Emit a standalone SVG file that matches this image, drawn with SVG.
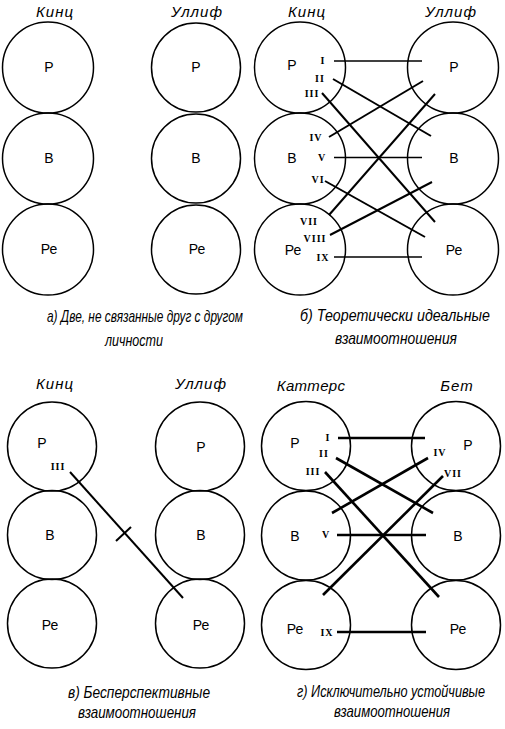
<svg xmlns="http://www.w3.org/2000/svg" width="505" height="729" viewBox="0 0 505 729">
<style>
.c{fill:none;stroke:#000;stroke-width:1.5}
.n{font-family:"Liberation Sans","Noto Sans",sans-serif;font-size:14px;text-anchor:middle;fill:#000}
.h{font-family:"Liberation Sans","Noto Sans",sans-serif;font-size:15px;font-style:italic;text-anchor:middle;fill:#000;letter-spacing:1px}
.cap{font-family:"Liberation Sans","Noto Sans",sans-serif;font-size:16px;font-style:italic;fill:#000}
.r{font-family:"Liberation Serif","DejaVu Serif",serif;font-size:10px;font-weight:bold;text-anchor:middle;fill:#000;letter-spacing:1px}
.thin{stroke:#000;stroke-width:1.3;fill:none}
.thk{stroke:#000;stroke-width:2;fill:none}
.thk2{stroke:#000;stroke-width:2.6;fill:none}
</style>
<rect width="505" height="729" fill="#fff"/>

<!-- Panel a -->
<g id="panel-a">
<text class="h" x="55" y="17">Кинц</text>
<text class="h" x="197" y="17">Уллиф</text>
<g id="a-k-r"><circle class="c" cx="48" cy="67.5" r="45.5"/><text class="n" x="49" y="72">Р</text></g>
<g id="a-k-v"><circle class="c" cx="48" cy="158.5" r="45.5"/><text class="n" x="49" y="163">В</text></g>
<g id="a-k-re"><circle class="c" cx="48" cy="249.5" r="45.5"/><text class="n" x="49" y="254">Ре</text></g>
<g id="a-u-r"><circle class="c" cx="196" cy="67.5" r="44.5"/><text class="n" x="196" y="72">Р</text></g>
<g id="a-u-v"><circle class="c" cx="196" cy="158.5" r="44.5"/><text class="n" x="196" y="163">В</text></g>
<g id="a-u-re"><circle class="c" cx="196" cy="249.5" r="44.5"/><text class="n" x="197" y="254">Ре</text></g>
<text class="cap" transform="translate(47,322) scale(0.85,1)" textLength="230.6" lengthAdjust="spacingAndGlyphs">а) Две, не связанные друг с другом</text>
<text class="cap" transform="translate(105,346) scale(0.85,1)" textLength="68.2" lengthAdjust="spacingAndGlyphs">личности</text>
</g>

<!-- Panel b -->
<g id="panel-b">
<text class="h" x="307" y="17">Кинц</text>
<text class="h" x="451" y="17">Уллиф</text>
<g id="b-k-r"><circle class="c" cx="300" cy="67.5" r="45.5"/><text class="n" x="292" y="70">Р</text>
<text class="r" x="323" y="64">I</text><text class="r" x="320" y="82">II</text><text class="r" x="312" y="97">III</text></g>
<g id="b-k-v"><circle class="c" cx="300" cy="158.5" r="45.5"/><text class="n" x="292" y="163">В</text>
<text class="r" x="316" y="141">IV</text><text class="r" x="322" y="161">V</text><text class="r" x="318" y="183">VI</text></g>
<g id="b-k-re"><circle class="c" cx="300" cy="249.5" r="45.5"/><text class="n" x="293" y="255">Ре</text>
<text class="r" x="309" y="225">VII</text><text class="r" x="315" y="242">VIII</text><text class="r" x="323" y="261">IX</text></g>
<g id="b-u-r"><circle class="c" cx="453" cy="67.5" r="45.5"/><text class="n" x="454" y="72">Р</text></g>
<g id="b-u-v"><circle class="c" cx="453" cy="158.5" r="45.5"/><text class="n" x="454" y="163">В</text></g>
<g id="b-u-re"><circle class="c" cx="453" cy="249.5" r="45.5"/><text class="n" x="454" y="255">Ре</text></g>
<text class="cap" transform="translate(300,321) scale(0.85,1)" textLength="223.5" lengthAdjust="spacingAndGlyphs">б) Теоретически идеальные</text>
<text class="cap" transform="translate(335,344) scale(0.85,1)" textLength="143.5" lengthAdjust="spacingAndGlyphs">взаимоотношения</text>
</g>

<!-- Panel c -->
<g id="panel-c">
<text class="h" x="55" y="389">Кинц</text>
<text class="h" x="201" y="389">Уллиф</text>
<g id="c-k-r"><circle class="c" cx="52" cy="446.5" r="44.5"/><text class="n" x="42" y="448">Р</text><text class="r" x="58" y="470">III</text></g>
<g id="c-k-v"><circle class="c" cx="52" cy="535" r="44.5"/><text class="n" x="50" y="540">В</text></g>
<g id="c-k-re"><circle class="c" cx="52" cy="623.5" r="44.5"/><text class="n" x="50" y="630">Ре</text></g>
<g id="c-u-r"><circle class="c" cx="200" cy="446.5" r="44.5"/><text class="n" x="201" y="452">Р</text></g>
<g id="c-u-v"><circle class="c" cx="200" cy="535" r="44.5"/><text class="n" x="201" y="540">В</text></g>
<g id="c-u-re"><circle class="c" cx="200" cy="623.5" r="44.5"/><text class="n" x="201" y="630">Ре</text></g>
<text class="cap" transform="translate(68,698) scale(0.85,1)" textLength="167.1" lengthAdjust="spacingAndGlyphs">в) Бесперспективные</text>
<text class="cap" transform="translate(78,718) scale(0.85,1)" textLength="138.8" lengthAdjust="spacingAndGlyphs">взаимоотношения</text>
</g>

<!-- Panel d -->
<g id="panel-d">
<text class="h" x="311" y="391" style="letter-spacing:0.3px">Каттерс</text>
<text class="h" x="457" y="391">Бет</text>
<g id="d-k-r"><circle class="c" cx="306" cy="446" r="44.5"/><text class="n" x="295" y="448">Р</text>
<text class="r" x="328" y="441">I</text><text class="r" x="324" y="457">II</text><text class="r" x="313" y="475">III</text></g>
<g id="d-k-v"><circle class="c" cx="306" cy="535.5" r="44.5"/><text class="n" x="295" y="541">В</text><text class="r" x="326" y="538">V</text></g>
<g id="d-k-re"><circle class="c" cx="306" cy="625" r="44.5"/><text class="n" x="295" y="634">Ре</text><text class="r" x="327" y="636">IX</text></g>
<g id="d-b-r"><circle class="c" cx="456" cy="446" r="44.5"/><text class="n" x="468" y="450">Р</text>
<text class="r" x="440" y="456">IV</text><text class="r" x="453" y="477">VII</text></g>
<g id="d-b-v"><circle class="c" cx="456" cy="535.5" r="44.5"/><text class="n" x="458" y="541">В</text></g>
<g id="d-b-re"><circle class="c" cx="456" cy="625" r="44.5"/><text class="n" x="458" y="634">Ре</text></g>
<text class="cap" transform="translate(297,697) scale(0.85,1)" textLength="221.2" lengthAdjust="spacingAndGlyphs">г) Исключительно устойчивые</text>
<text class="cap" transform="translate(334,717) scale(0.85,1)" textLength="136.5" lengthAdjust="spacingAndGlyphs">взаимоотношения</text>
</g>

<g id="connectors">
<!-- b -->
<line class="thin" x1="334" y1="61" x2="422" y2="61"/>
<line class="thk" x1="333" y1="79" x2="431" y2="136"/>
<line class="thk" x1="322" y1="93" x2="435" y2="222"/>
<line class="thk" x1="329" y1="137" x2="423" y2="81"/>
<line class="thin" x1="334" y1="157.5" x2="422" y2="157.5"/>
<line class="thk" x1="325" y1="181" x2="425" y2="237"/>
<line class="thk" x1="329" y1="215" x2="435" y2="94"/>
<line class="thk" x1="330" y1="235" x2="432" y2="182"/>
<line class="thin" x1="334" y1="257" x2="422" y2="257"/>
<!-- c -->
<line class="thk" x1="70" y1="472" x2="183" y2="598"/>
<line class="thk" x1="116" y1="541" x2="131" y2="527"/>
<!-- d -->
<line class="thk2" x1="338" y1="438" x2="425" y2="438"/>
<line class="thk2" x1="336" y1="458" x2="433" y2="513"/>
<line class="thk2" x1="325" y1="472" x2="439" y2="597"/>
<line class="thk2" x1="428" y1="458" x2="332" y2="513"/>
<line class="thk2" x1="443" y1="476" x2="323" y2="595"/>
<line class="thk2" x1="337" y1="535" x2="426" y2="535"/>
<line class="thk2" x1="337" y1="632" x2="426" y2="632"/>
</g>
</svg>
